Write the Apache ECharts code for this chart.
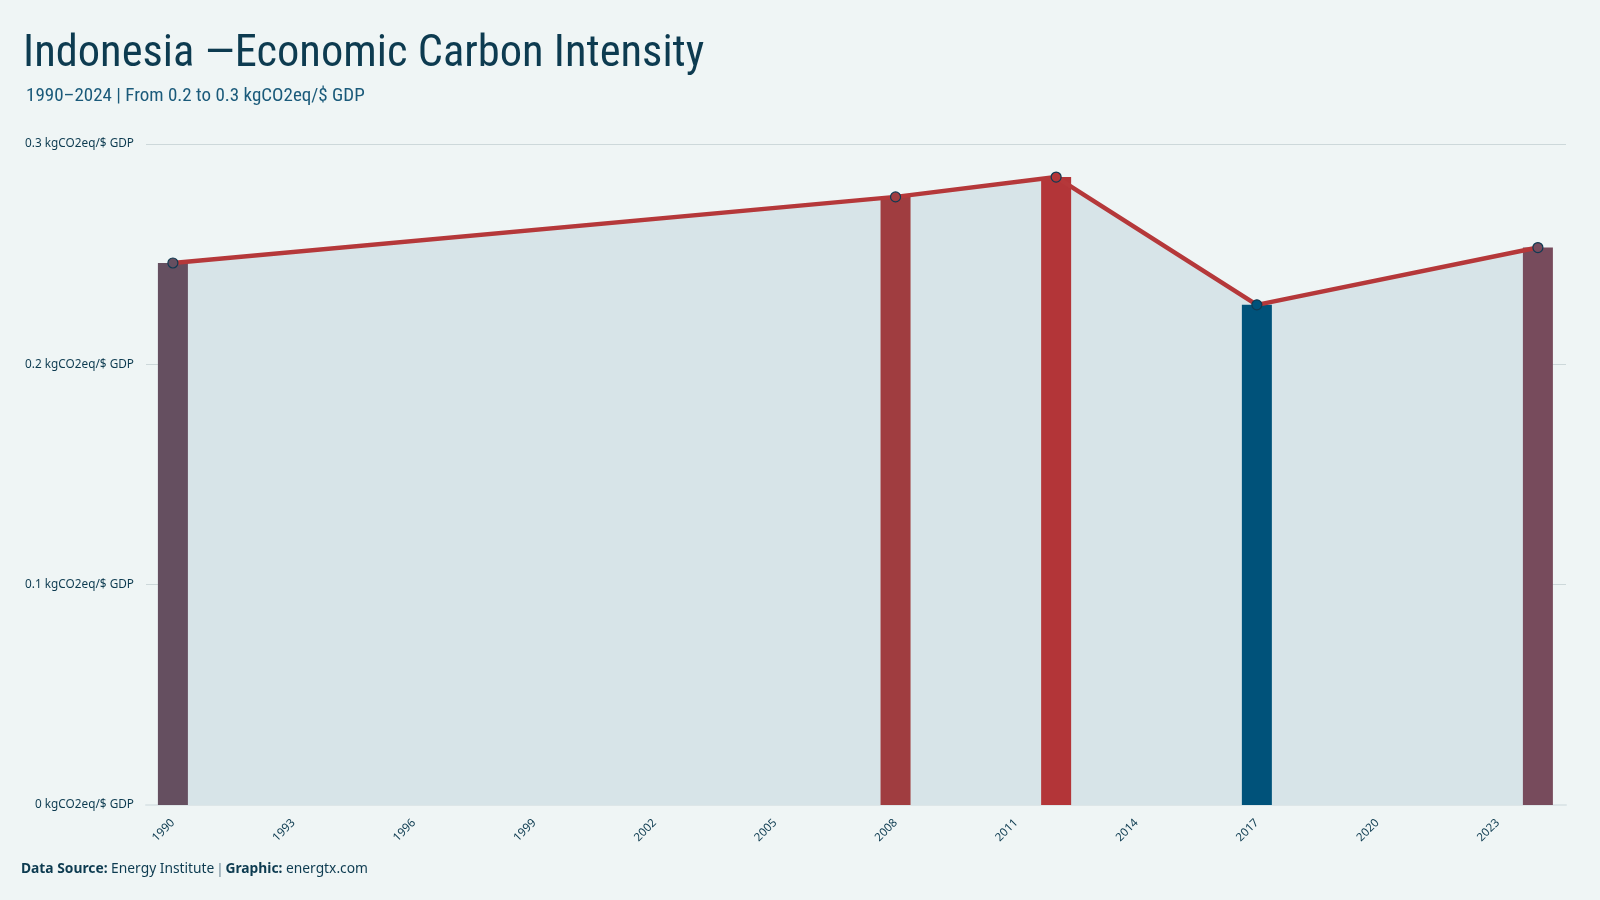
<!DOCTYPE html>
<html>
<head>
<meta charset="utf-8">
<script src="https://cdn.jsdelivr.net/npm/echarts@6/dist/echarts.min.js"></script>
<style>
  html, body { margin: 0; padding: 0; background: #eff5f5; }
  #main { width: 1600px; height: 900px; }
</style>
</head>
<body>
<div id="main"></div>
<script>
// data
const years = [1990, 2008, 2012, 2017, 2024]
const intensity = [0.246, 0.276, 0.285, 0.227, 0.253]
const barColors = ['#654f60', '#a03d40', '#b33538', '#00527a', '#774b5c']
const xTicks = [1990, 1993, 1996, 1999, 2002, 2005, 2008, 2011, 2014, 2017, 2020, 2023]
const yTicks = [0, 0.1, 0.2, 0.3]

const font = "'Roboto Condensed', 'Liberation Sans Narrow', 'Noto Sans', sans-serif"
const navy = '#0d3b50'

let myChart = echarts.init(document.getElementById('main'))

const points = years.map((y, i) => [y, intensity[i]])

myChart.setOption({
  backgroundColor: '#eff5f5',
  title: [
    {
      text: 'Indonesia —Economic Carbon Intensity',
      left: 18,
      top: 27,
      textStyle: { fontFamily: font, fontSize: 44.5, fontWeight: 'normal', color: navy }
    },
    {
      text: '1990–2024 | From 0.2 to 0.3 kgCO2eq/$ GDP',
      left: 21,
      top: 82,
      textStyle: { fontFamily: font, fontSize: 19, fontWeight: 'normal', color: '#1a5a7a' }
    }
  ],
  grid: {
    left: 146,
    right: 34,
    top: 144,
    bottom: 95
  },
  xAxis: {
    type: 'value',
    min: 1989.33,
    max: 2024.7,
    splitLine: { show: false },
    axisTick: { show: false },
    axisLine: { show: true, lineStyle: { color: '#dde6e8', width: 2 } },
    axisLabel: {
      customValues: xTicks,
      rotate: 45,
      color: navy,
      fontSize: 11.5,
      fontFamily: 'Noto Sans',
      margin: 16,
      formatter: v => String(v)
    }
  },
  yAxis: {
    type: 'value',
    min: 0,
    max: 0.3,
    interval: 0.1,
    axisLine: { show: false },
    axisTick: { show: false },
    splitLine: { lineStyle: { color: '#cdd8da', width: 1 } },
    axisLabel: {
      customValues: yTicks,
      color: navy,
      fontSize: 11.8,
      fontFamily: 'Noto Sans',
      margin: 12,
      formatter: v => (Math.round(v * 10) / 10) + ' kgCO2eq/$ GDP'
    }
  },
  series: [
    {
      type: 'line',
      data: points,
      symbol: 'none',
      lineStyle: { width: 0 },
      areaStyle: { color: '#d7e4e8', opacity: 1 },
      z: 1,
      silent: true
    },
    {
      type: 'bar',
      barWidth: 30,
      data: points.map((p, i) => ({ value: p, itemStyle: { color: barColors[i] } })),
      z: 2
    },
    {
      type: 'line',
      data: points.map((p, i) => ({ value: p, itemStyle: { color: barColors[i] } })),
      symbol: 'circle',
      symbolSize: 10,
      lineStyle: { color: '#b5383a', width: 4.5 },
      itemStyle: { borderColor: '#0f3a52', borderWidth: 1.2 },
      z: 3
    }
  ],
  graphic: [
    {
      type: 'text',
      left: 21,
      top: 862,
      style: {
        text: '{b|Data Source:} Energy Institute {s||} {b|Graphic:} energtx.com',
        font: "13.8px 'Noto Sans'",
        fill: navy,
        rich: {
          b: { fontWeight: 'bold', fontSize: 13.8, fontFamily: 'Noto Sans', fill: navy },
          s: { fontSize: 15, fill: '#7f97a4' }
        }
      }
    }
  ]
})
</script>
</body>
</html>
